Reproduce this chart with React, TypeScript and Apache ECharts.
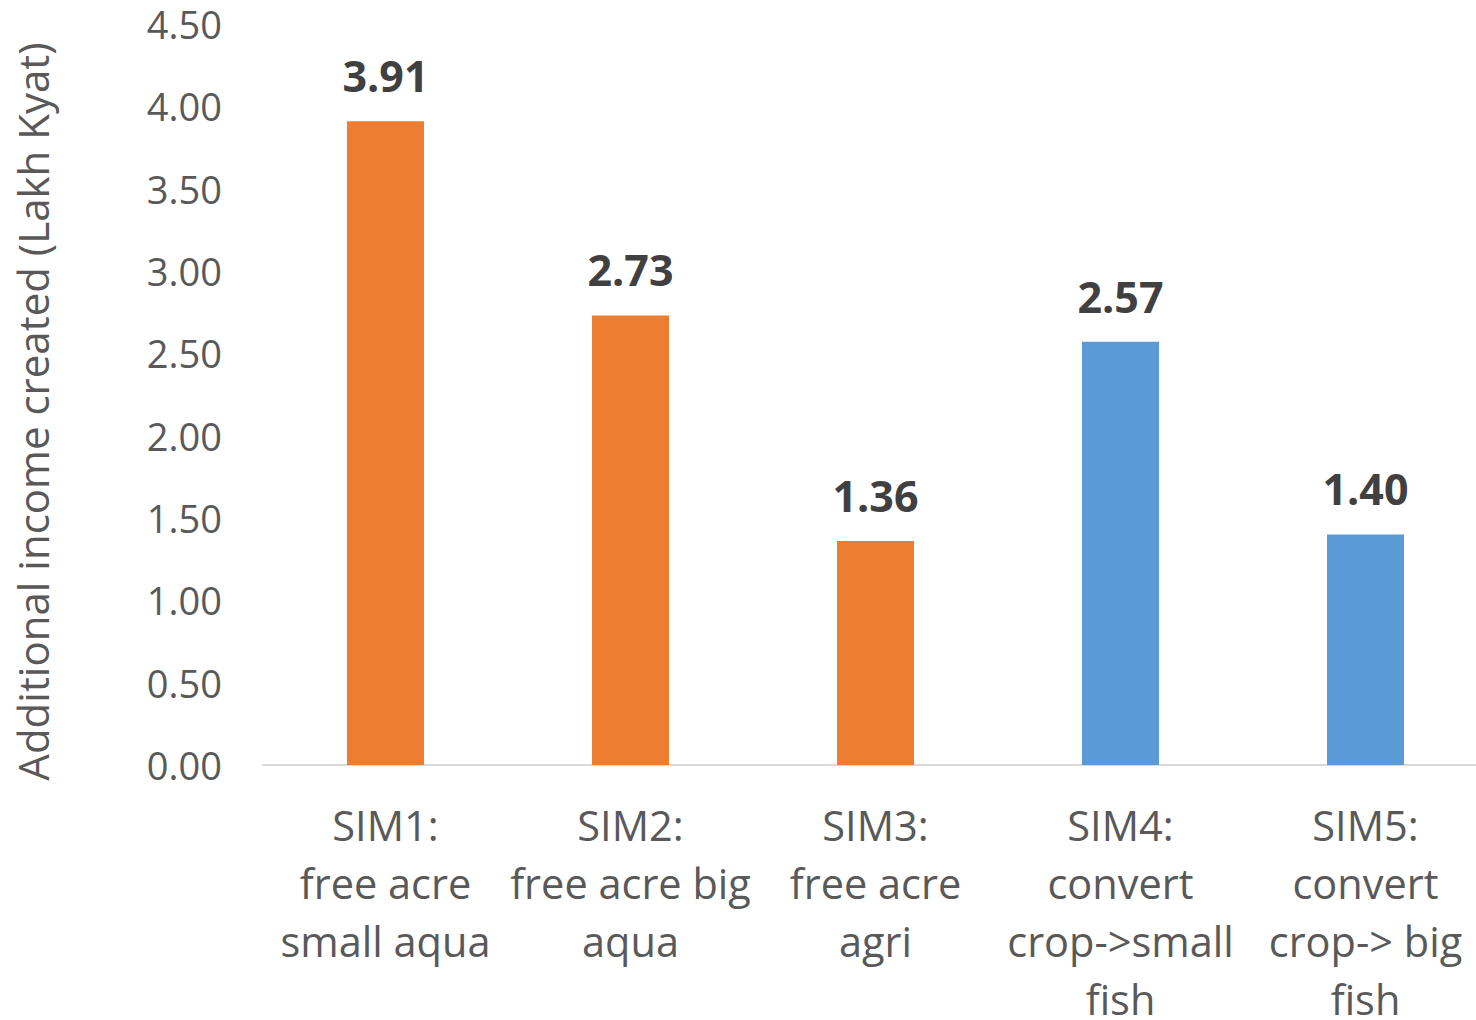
import React, { useEffect, useRef } from "react";
import * as echarts from "echarts";

const categories = [
  "SIM1:\nfree acre\nsmall aqua",
  "SIM2:\nfree acre big\naqua",
  "SIM3:\nfree acre\nagri",
  "SIM4:\nconvert\ncrop->small\nfish",
  "SIM5:\nconvert\ncrop-> big\nfish",
];
const values = [3.91, 2.73, 1.36, 2.57, 1.4];
const barColors = ["#ED7D31", "#ED7D31", "#ED7D31", "#5B9BD5", "#5B9BD5"];
const yAxisTitle = "Additional income created (Lakh Kyat)";

const FONT = "'Open Sans', sans-serif";

export default function App() {
  const ref = useRef<HTMLDivElement>(null);

  useEffect(() => {
    if (!ref.current) return;
    const chart = echarts.init(ref.current, undefined, { renderer: "svg" });
    chart.setOption({
      animation: false,
      backgroundColor: "#ffffff",
      grid: {
        left: 263,
        right: -12,
        top: 24,
        bottom: 255,
        containLabel: false,
        outerBoundsMode: "none",
      },
      xAxis: {
        type: "category",
        data: categories,
        axisLine: { lineStyle: { color: "#d9d9d9", width: 2 } },
        axisTick: { show: false },
        axisLabel: {
          interval: 0,
          color: "#595959",
          fontFamily: FONT,
          fontSize: 41.5,
          lineHeight: 58,
          margin: 31,
        },
      },
      yAxis: {
        type: "value",
        min: 0,
        max: 4.5,
        interval: 0.5,
        name: yAxisTitle,
        nameLocation: "middle",
        nameGap: 210,
        nameTextStyle: {
          color: "#595959",
          fontFamily: FONT,
          fontSize: 42,
          padding: [0, 34, 0, 0],
        },
        splitLine: { show: false },
        axisLine: { show: false },
        axisTick: { show: false },
        axisLabel: {
          color: "#595959",
          fontFamily: FONT,
          fontSize: 38,
          margin: 41,
          formatter: (v: number) => v.toFixed(2),
        },
      },
      series: [
        {
          type: "bar",
          barWidth: 77,
          data: values.map((v, i) => ({ value: v, itemStyle: { color: barColors[i] } })),
          label: {
            show: true,
            position: "top",
            distance: 24,
            color: "#404040",
            fontFamily: FONT,
            fontWeight: "bold",
            fontSize: 43,
            formatter: (p: any) => Number(p.value).toFixed(2),
          },
        },
      ],
    });
    return () => chart.dispose();
  }, []);

  return (
    <div
      ref={ref}
      style={{ position: "fixed", left: 0, top: 0, width: 1476, height: 1020 }}
    />
  );
}
